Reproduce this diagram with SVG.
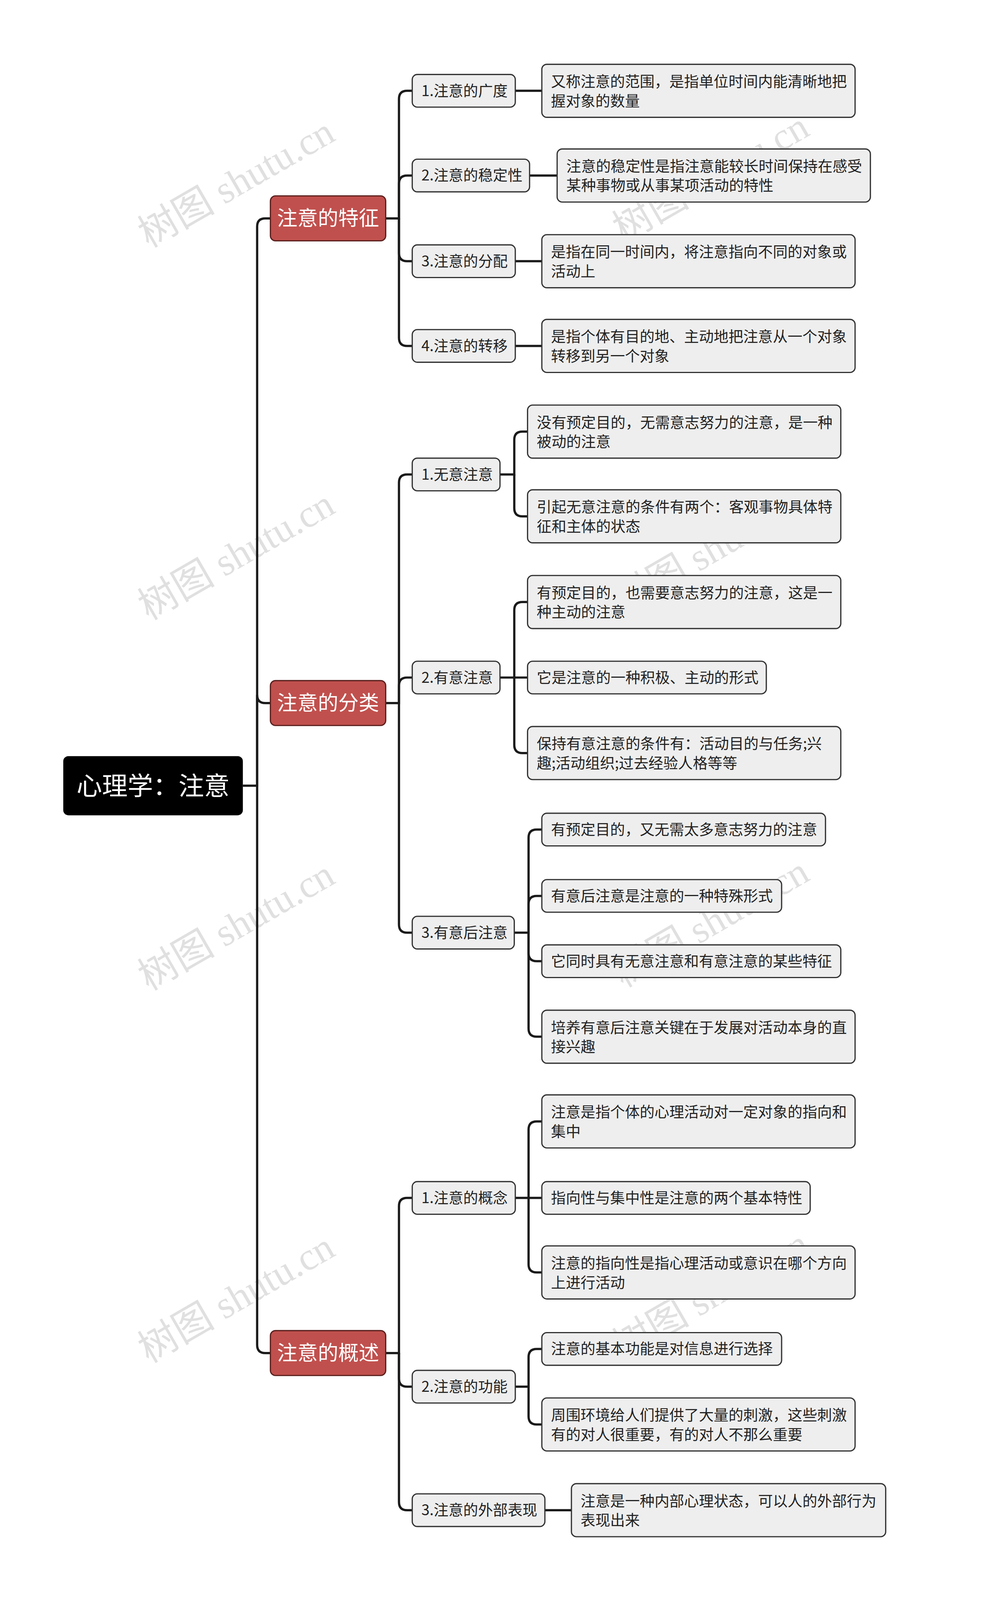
<svg xmlns="http://www.w3.org/2000/svg" width="2560" height="4313" viewBox="0 0 2560 4313">
<style>
.wm{font-family:"Liberation Serif","Noto Sans CJK SC",serif;font-size:38px;fill:#d9d9d9;opacity:0.8}
.c{fill:none;stroke:#1a1a1a;stroke-width:2.2}
.l2{fill:#eeeeee;stroke:#333;stroke-width:1.2}
.lf{fill:#eeeeee;stroke:#333;stroke-width:1.2}
.t{font-family:"Noto Sans CJK SC",sans-serif;font-size:14.5px;fill:#222}
.l1{fill:#c0504d;stroke:#5a1f1d;stroke-width:1.2}
.t1{font-family:"Noto Sans CJK SC",sans-serif;font-size:20px;fill:#fff}
</style>
<rect width="2560" height="4313" fill="#fff"/>
<g transform="scale(2.6122)">
<g id="watermarks">
<text class="wm" transform="translate(238,190) rotate(-30)" text-anchor="middle">树图 shutu.cn</text>
<text class="wm" transform="translate(238,555) rotate(-30)" text-anchor="middle">树图 shutu.cn</text>
<text class="wm" transform="translate(238,918) rotate(-30)" text-anchor="middle">树图 shutu.cn</text>
<text class="wm" transform="translate(238,1283) rotate(-30)" text-anchor="middle">树图 shutu.cn</text>
<text class="wm" transform="translate(703,185) rotate(-30)" text-anchor="middle">树图 shutu.cn</text>
<text class="wm" transform="translate(703,550) rotate(-30)" text-anchor="middle">树图 shutu.cn</text>
<text class="wm" transform="translate(703,915) rotate(-30)" text-anchor="middle">树图 shutu.cn</text>
<text class="wm" transform="translate(703,1280) rotate(-30)" text-anchor="middle">树图 shutu.cn</text>
</g>
<g id="connectors">
<path class="c" d="M238 770 H252 V222 Q252 214 260 214 H265"/>
<path class="c" d="M252 770 V681 Q252 689 260 689 H265"/>
<path class="c" d="M252 770 V1318 Q252 1326 260 1326 H265"/>
<path class="c" d="M378 214 H391 V97 Q391 89 399 89 H404"/>
<path class="c" d="M391 214 V180 Q391 172 399 172 H404"/>
<path class="c" d="M391 214 V248 Q391 256 399 256 H404"/>
<path class="c" d="M391 214 V331 Q391 339 399 339 H404"/>
<path class="c" d="M505 89 H531"/><path class="c" d="M519 172 H546"/><path class="c" d="M505 256 H531"/><path class="c" d="M505 339 H531"/>
<path class="c" d="M378 689 H391 V473 Q391 465 399 465 H404"/>
<path class="c" d="M391 689 V672 Q391 664 399 664 H404"/>
<path class="c" d="M391 689 V906 Q391 914 399 914 H404"/>
<path class="c" d="M490 465 H504 V431 Q504 423 512 423 H517"/>
<path class="c" d="M504 465 V498 Q504 506 512 506 H517"/>
<path class="c" d="M490 664 H504 V598 Q504 590 512 590 H517"/>
<path class="c" d="M504 664 H517"/>
<path class="c" d="M504 664 V730 Q504 738 512 738 H517"/>
<path class="c" d="M504 914 H518 V821 Q518 813 526 813 H531"/>
<path class="c" d="M518 914 V886 Q518 878 526 878 H531"/>
<path class="c" d="M518 914 V934 Q518 942 526 942 H531"/>
<path class="c" d="M518 914 V1008 Q518 1016 526 1016 H531"/>
<path class="c" d="M378 1326 H391 V1182 Q391 1174 399 1174 H404"/>
<path class="c" d="M391 1326 V1351 Q391 1359 399 1359 H404"/>
<path class="c" d="M391 1326 V1472 Q391 1480 399 1480 H404"/>
<path class="c" d="M505 1174 H518 V1107 Q518 1099 526 1099 H531"/>
<path class="c" d="M518 1174 H531"/>
<path class="c" d="M518 1174 V1239 Q518 1247 526 1247 H531"/>
<path class="c" d="M505 1359 H518 V1330 Q518 1322 526 1322 H531"/>
<path class="c" d="M518 1359 V1388 Q518 1396 526 1396 H531"/>
<path class="c" d="M534 1480 H560"/>
</g>
<g id="root"><rect x="62" y="741" width="176" height="58" rx="5" fill="#000"/><text x="150" y="779" text-anchor="middle" font-family="Noto Sans CJK SC,sans-serif" font-size="25" fill="#fff">心理学：注意</text></g>
<g id="n1"><rect class="l1" x="265" y="192" width="113" height="44" rx="5"/><text class="t1" x="321.5" y="221" text-anchor="middle">注意的特征</text></g>
<g id="n2"><rect class="l1" x="265" y="667" width="113" height="44" rx="5"/><text class="t1" x="321.5" y="696" text-anchor="middle">注意的分类</text></g>
<g id="n3"><rect class="l1" x="265" y="1304" width="113" height="44" rx="5"/><text class="t1" x="321.5" y="1333" text-anchor="middle">注意的概述</text></g>
<g id="n1a"><rect class="l2" x="404" y="73" width="101" height="32" rx="5"/><text class="t" x="413" y="94">1.注意的广度</text></g>
<g id="n1b"><rect class="l2" x="404" y="156" width="115" height="32" rx="5"/><text class="t" x="413" y="177">2.注意的稳定性</text></g>
<g id="n1c"><rect class="l2" x="404" y="240" width="101" height="32" rx="5"/><text class="t" x="413" y="261">3.注意的分配</text></g>
<g id="n1d"><rect class="l2" x="404" y="323" width="101" height="32" rx="5"/><text class="t" x="413" y="344">4.注意的转移</text></g>
<g id="n1a1"><rect class="lf" x="531" y="63" width="307" height="52" rx="5"/><text class="t" x="540" y="85">又称注意的范围，是指单位时间内能清晰地把</text><text class="t" x="540" y="104">握对象的数量</text></g>
<g id="n1b1"><rect class="lf" x="546" y="146" width="307" height="52" rx="5"/><text class="t" x="555" y="168">注意的稳定性是指注意能较长时间保持在感受</text><text class="t" x="555" y="187">某种事物或从事某项活动的特性</text></g>
<g id="n1c1"><rect class="lf" x="531" y="230" width="307" height="52" rx="5"/><text class="t" x="540" y="252">是指在同一时间内，将注意指向不同的对象或</text><text class="t" x="540" y="271">活动上</text></g>
<g id="n1d1"><rect class="lf" x="531" y="313" width="307" height="52" rx="5"/><text class="t" x="540" y="335">是指个体有目的地、主动地把注意从一个对象</text><text class="t" x="540" y="354">转移到另一个对象</text></g>
<g id="n2a"><rect class="l2" x="404" y="449" width="86" height="32" rx="5"/><text class="t" x="413" y="470">1.无意注意</text></g>
<g id="n2b"><rect class="l2" x="404" y="648" width="86" height="32" rx="5"/><text class="t" x="413" y="669">2.有意注意</text></g>
<g id="n2c"><rect class="l2" x="404" y="898" width="100" height="32" rx="5"/><text class="t" x="413" y="919">3.有意后注意</text></g>
<g id="n2a1"><rect class="lf" x="517" y="397" width="307" height="52" rx="5"/><text class="t" x="526" y="419">没有预定目的，无需意志努力的注意，是一种</text><text class="t" x="526" y="438">被动的注意</text></g>
<g id="n2a2"><rect class="lf" x="517" y="480" width="307" height="52" rx="5"/><text class="t" x="526" y="502">引起无意注意的条件有两个：客观事物具体特</text><text class="t" x="526" y="521">征和主体的状态</text></g>
<g id="n2b1"><rect class="lf" x="517" y="564" width="307" height="52" rx="5"/><text class="t" x="526" y="586">有预定目的，也需要意志努力的注意，这是一</text><text class="t" x="526" y="605">种主动的注意</text></g>
<g id="n2b2"><rect class="lf" x="517" y="648" width="234" height="32" rx="5"/><text class="t" x="526" y="669">它是注意的一种积极、主动的形式</text></g>
<g id="n2b3"><rect class="lf" x="517" y="712" width="307" height="52" rx="5"/><text class="t" x="526" y="734">保持有意注意的条件有：活动目的与任务;兴</text><text class="t" x="526" y="753">趣;活动组织;过去经验人格等等</text></g>
<g id="n2c1"><rect class="lf" x="531" y="797" width="278" height="32" rx="5"/><text class="t" x="540" y="818">有预定目的，又无需太多意志努力的注意</text></g>
<g id="n2c2"><rect class="lf" x="531" y="862" width="235" height="32" rx="5"/><text class="t" x="540" y="883">有意后注意是注意的一种特殊形式</text></g>
<g id="n2c3"><rect class="lf" x="531" y="926" width="293" height="32" rx="5"/><text class="t" x="540" y="947">它同时具有无意注意和有意注意的某些特征</text></g>
<g id="n2c4"><rect class="lf" x="531" y="990" width="307" height="52" rx="5"/><text class="t" x="540" y="1012">培养有意后注意关键在于发展对活动本身的直</text><text class="t" x="540" y="1031">接兴趣</text></g>
<g id="n3a"><rect class="l2" x="404" y="1158" width="101" height="32" rx="5"/><text class="t" x="413" y="1179">1.注意的概念</text></g>
<g id="n3b"><rect class="l2" x="404" y="1343" width="101" height="32" rx="5"/><text class="t" x="413" y="1364">2.注意的功能</text></g>
<g id="n3c"><rect class="l2" x="404" y="1464" width="130" height="32" rx="5"/><text class="t" x="413" y="1485">3.注意的外部表现</text></g>
<g id="n3a1"><rect class="lf" x="531" y="1073" width="307" height="52" rx="5"/><text class="t" x="540" y="1095">注意是指个体的心理活动对一定对象的指向和</text><text class="t" x="540" y="1114">集中</text></g>
<g id="n3a2"><rect class="lf" x="531" y="1158" width="263" height="32" rx="5"/><text class="t" x="540" y="1179">指向性与集中性是注意的两个基本特性</text></g>
<g id="n3a3"><rect class="lf" x="531" y="1221" width="307" height="52" rx="5"/><text class="t" x="540" y="1243">注意的指向性是指心理活动或意识在哪个方向</text><text class="t" x="540" y="1262">上进行活动</text></g>
<g id="n3b1"><rect class="lf" x="531" y="1306" width="235" height="32" rx="5"/><text class="t" x="540" y="1327">注意的基本功能是对信息进行选择</text></g>
<g id="n3b2"><rect class="lf" x="531" y="1370" width="307" height="52" rx="5"/><text class="t" x="540" y="1392">周围环境给人们提供了大量的刺激，这些刺激</text><text class="t" x="540" y="1411">有的对人很重要，有的对人不那么重要</text></g>
<g id="n3c1"><rect class="lf" x="560" y="1454" width="308" height="52" rx="5"/><text class="t" x="569" y="1476">注意是一种内部心理状态，可以人的外部行为</text><text class="t" x="569" y="1495">表现出来</text></g>
</g>
</svg>
